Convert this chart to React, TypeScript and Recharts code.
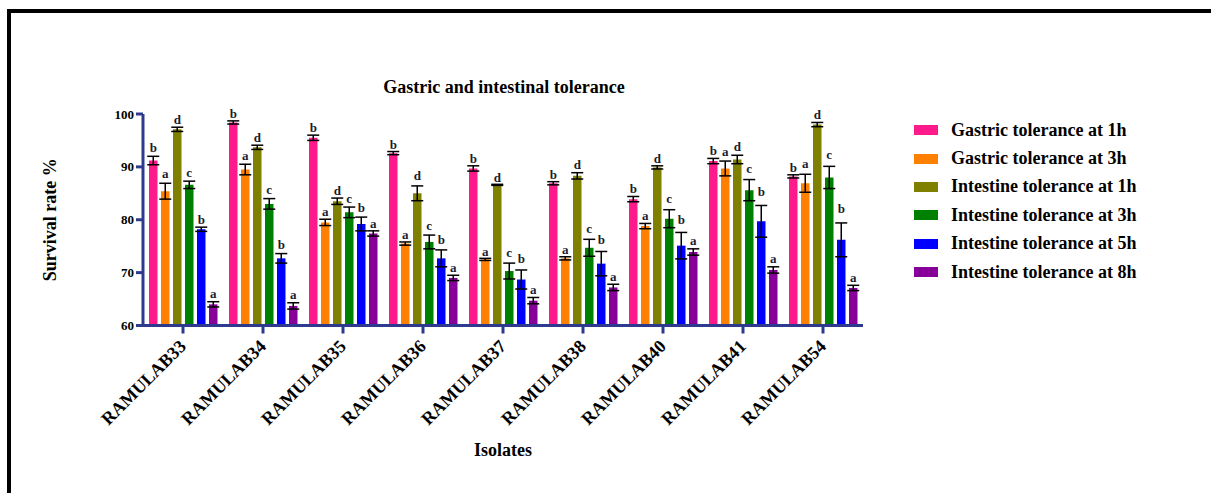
import React from "react";
import {
  Bar,
  BarChart,
  ErrorBar,
  LabelList,
  XAxis,
  YAxis,
} from "recharts";

const isolates = [
  "RAMULAB33",
  "RAMULAB34",
  "RAMULAB35",
  "RAMULAB36",
  "RAMULAB37",
  "RAMULAB38",
  "RAMULAB40",
  "RAMULAB41",
  "RAMULAB54",
];

const seriesNames = [
  "Gastric tolerance at 1h",
  "Gastric tolerance at 3h",
  "Intestine tolerance at 1h",
  "Intestine tolerance at 3h",
  "Intestine tolerance at 5h",
  "Intestine tolerance at 8h",
];

const seriesColors = ["#ff1a8c", "#ff8000", "#808000", "#008000", "#0000ff", "#88009a"];

const seriesLetters = ["b", "a", "d", "c", "b", "a"];

// means
const gastric1h = [91.2, 98.4, 95.5, 92.6, 89.7, 86.9, 83.9, 91.1, 88.2];
const gastric3h = [85.4, 89.5, 79.5, 75.5, 72.5, 72.7, 78.8, 89.7, 86.9];
const intestine1h = [97.1, 93.7, 83.5, 85.0, 86.6, 88.3, 89.9, 91.4, 98.0];
const intestine3h = [86.6, 83.0, 81.4, 75.8, 70.3, 74.7, 80.2, 85.6, 88.0];
const intestine5h = [78.2, 72.7, 79.2, 72.7, 68.7, 71.7, 75.1, 79.7, 76.2];
const intestine8h = [64.0, 63.7, 77.4, 69.0, 64.7, 67.2, 73.9, 70.5, 67.1];

// error bars (+/-)
const gastric1hErr = [0.8, 0.3, 0.5, 0.3, 0.5, 0.3, 0.5, 0.5, 0.3];
const gastric3hErr = [1.5, 1.0, 0.6, 0.3, 0.2, 0.3, 0.5, 1.4, 1.7];
const intestine1hErr = [0.4, 0.4, 0.6, 1.4, 0.1, 0.6, 0.3, 0.8, 0.4];
const intestine3hErr = [0.7, 1.0, 1.0, 1.3, 1.5, 1.6, 1.7, 2.0, 2.1];
const intestine5hErr = [0.4, 0.9, 1.3, 1.6, 1.8, 2.3, 2.5, 3.0, 3.2];
const intestine8hErr = [0.5, 0.6, 0.5, 0.5, 0.6, 0.6, 0.6, 0.6, 0.5];

const yTicks = [60, 70, 80, 90, 100];

const values = [gastric1h, gastric3h, intestine1h, intestine3h, intestine5h, intestine8h];
const errors = [
  gastric1hErr,
  gastric3hErr,
  intestine1hErr,
  intestine3hErr,
  intestine5hErr,
  intestine8hErr,
];

const data = isolates.map((name, i) => {
  const row: Record<string, string | number> = { name };
  values.forEach((arr, s) => {
    row[`v${s}`] = arr[i];
    row[`e${s}`] = errors[s][i];
  });
  return row;
});

const W = 1211;
const H = 493;
const margin = { top: 114, right: 348, left: 103, bottom: 67.5 };
const plotH = H - margin.top - margin.bottom;
const pxPerUnit = plotH / (yTicks[yTicks.length - 1] - yTicks[0]);

const FONT = "'Liberation Serif', 'Times New Roman', serif";
const AXIS = "#2e3a8c";

function XTick({ x, y, payload }: any) {
  const ax = x + 4;
  const ay = y + 12;
  return (
    <text
      x={ax}
      y={ay}
      transform={`rotate(-45 ${ax} ${ay})`}
      textAnchor="end"
      fontFamily={FONT}
      fontWeight="bold"
      fontSize={18}
      fill="#000"
    >
      {payload.value}
    </text>
  );
}

function makeLetter(s: number) {
  return (props: any) => {
    const { x, y, width, index } = props;
    const err = errors[s][index] * pxPerUnit;
    return (
      <text
        x={x + width / 2}
        y={y - err - 2}
        textAnchor="middle"
        fontFamily={FONT}
        fontWeight="bold"
        fontSize={13}
        fill="#1c1c2c"
      >
        {seriesLetters[s]}
      </text>
    );
  };
}

export default function App() {
  return (
    <div style={{ position: "absolute", left: 0, top: 0, width: W, height: H, background: "#fff" }}>
      <div
        style={{
          position: "absolute",
          left: 7,
          top: 9,
          width: W - 7,
          height: H - 9,
          borderTop: "4px solid #000",
          borderLeft: "4px solid #000",
          boxSizing: "border-box",
        }}
      />
      <div
        style={{
          position: "absolute",
          left: 0,
          width: 1008,
          top: 77,
          textAlign: "center",
          fontFamily: FONT,
          fontWeight: "bold",
          fontSize: 18,
          lineHeight: "20px",
        }}
      >
        Gastric and intestinal tolerance
      </div>
      <div
        style={{
          position: "absolute",
          left: 914,
          top: 116,
          fontFamily: FONT,
          fontWeight: "bold",
          fontSize: 18,
          color: "#000",
        }}
      >
        {seriesNames.map((n, i) => (
          <div key={n} style={{ display: "flex", alignItems: "center", height: 28.4 }}>
            <span
              style={{
                display: "inline-block",
                width: 24,
                height: 10,
                background: seriesColors[i],
                marginRight: 13,
              }}
            />
            <span style={{ whiteSpace: "nowrap" }}>{n}</span>
          </div>
        ))}
      </div>
      <BarChart
        width={W}
        height={H}
        data={data}
        margin={margin}
        barSize={8.5}
        barGap={3.5}
        style={{ position: "absolute", left: 0, top: 0 }}
      >
        <XAxis
          dataKey="name"
          height={100}
          tick={<XTick />}
          interval={0}
          axisLine={{ stroke: AXIS, strokeWidth: 3 }}
          tickLine={{ stroke: AXIS, strokeWidth: 3 }}
          tickSize={8}
          label={{
            value: "Isolates",
            position: "insideBottom",
            offset: -30,
            fontFamily: FONT,
            fontWeight: "bold",
            fontSize: 18,
            fill: "#000",
          }}
        />
        <YAxis
          width={40}
          domain={[60, 100]}
          ticks={yTicks}
          axisLine={{ stroke: AXIS, strokeWidth: 3 }}
          tickLine={{ stroke: AXIS, strokeWidth: 3 }}
          tickSize={7}
          tick={{ fontFamily: FONT, fontWeight: "bold", fontSize: 13, fill: "#000" }}
          label={{
            value: "Survival rate %",
            angle: -90,
            position: "insideLeft",
            offset: -53,
            style: { textAnchor: "middle" },
            fontFamily: FONT,
            fontWeight: "bold",
            fontSize: 18,
            fill: "#000",
          }}
        />
        {seriesNames.map((n, s) => (
          <Bar
            key={n}
            name={n}
            dataKey={`v${s}`}
            fill={seriesColors[s]}
            isAnimationActive={false}
          >
            <ErrorBar dataKey={`e${s}`} width={6} strokeWidth={1.5} stroke="#000" direction="y" />
            <LabelList dataKey={`v${s}`} content={makeLetter(s)} />
          </Bar>
        ))}
      </BarChart>
    </div>
  );
}
